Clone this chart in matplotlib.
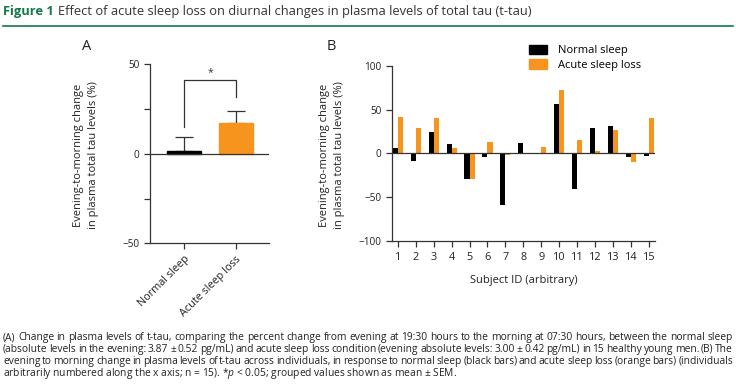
import numpy as np
from matplotlib import pyplot as plt
from matplotlib.patches import Patch

plt.rcParams['font.family'] = ['Open Sans', 'DejaVu Sans']
plt.rcParams['mathtext.fontset'] = 'custom'
plt.rcParams['mathtext.rm'] = 'Open Sans'
plt.rcParams['mathtext.it'] = 'Open Sans:italic'

# panel A: group means and SEM
groups = ['Normal sleep', 'Acute sleep loss']
group_mean = [1.5, 17.2]
group_sem = [8.0, 6.9]

# panel B: individual changes (%)
subjects = list(range(1, 16))
normal_sleep = [6, -9, 25, 11, -29, -3.5, -59, 12, 0.5, 56, -40, 29.5, 31, -3.5, -3]
sleep_loss = [42, 29.5, 41, 6, -29, 13, -2, 0, 7.5, 72, 15, 2.5, 27, -9.5, 40]

title_bold = 'Figure 1'
title_rest = 'Effect of acute sleep loss on diurnal changes in plasma levels of total tau (t-tau)'
caption = [
    '(A) Change in plasma levels of t-tau, comparing the percent change from evening at 19:30 hours to the morning at 07:30 hours, between the normal sleep',
    '(absolute levels in the evening: 3.87 ± 0.52 pg/mL) and acute sleep loss condition (evening absolute levels: 3.00 ± 0.42 pg/mL) in 15 healthy young men. (B) The',
    'evening to morning change in plasma levels of t-tau across individuals, in response to normal sleep (black bars) and acute sleep loss (orange bars) (individuals',
    'arbitrarily numbered along the x axis; n = 15). *$p$ < 0.05; grouped values shown as mean ± SEM.',
]

BLACK = '#000000'
ORANGE = '#f7941d'
AXC = '#333333'
TXT = '#222222'
W, H = 736, 386

fig = plt.figure(figsize=(W / 100, H / 100), dpi=100)


def px_axes(left, top, right, bottom):
    return fig.add_axes([left / W, 1 - bottom / H, (right - left) / W, (bottom - top) / H])


def style(ax):
    for s in ['top', 'right']:
        ax.spines[s].set_visible(False)
    for s in ['left', 'bottom']:
        ax.spines[s].set_color(AXC)
        ax.spines[s].set_linewidth(0.9)
    ax.tick_params(colors=AXC, labelcolor=TXT, labelsize=7.2, width=0.9, length=4)
    ax.tick_params(which='minor', colors=AXC, width=0.9, length=4)


# title
t = fig.text(3 / W, 1 - 11 / H, title_bold, fontsize=9.3, fontweight='bold',
             color='#127a48', ha='left', va='center')
fig.canvas.draw()
r = fig.canvas.get_renderer()
bb = t.get_window_extent(r)
fig.text((bb.x1 + 4) / W, 1 - 11 / H, title_rest, fontsize=9.3, color='#333333',
         ha='left', va='center')
fig.add_artist(plt.Line2D([3 / W, 733 / W], [1 - 26 / H, 1 - 26 / H], color='#127a48', lw=1.2))

# ---- panel A
axA = px_axes(150, 64.3, 269, 243.3)
style(axA)
xa = np.arange(len(groups))
axA.bar(xa, group_mean, width=0.66, color=[BLACK, ORANGE], edgecolor=[BLACK, ORANGE], zorder=2)
axA.errorbar(xa, group_mean, yerr=[np.zeros(2), group_sem], fmt='none', ecolor=AXC,
             elinewidth=0.9, capsize=6.5, capthick=0.9, zorder=1)
axA.axhline(0, color=AXC, lw=0.9, zorder=3)
axA.set_xlim(-0.667, 1.648)
axA.set_ylim(-50, 50)
axA.set_yticks([-50, 0, 50])
axA.set_yticks([-25, 25], minor=True)
axA.set_xticks(xa)
axA.set_xticklabels(groups, rotation=45, ha='right', rotation_mode='anchor', fontsize=7.8)
# significance bracket
axA.plot([0, 0, 1, 1], [15, 41.2, 41.2, 31.5], color=AXC, lw=0.9)
axA.text(0.5, 42.5, '*', ha='center', va='bottom', fontsize=7.5, color=AXC)
ylab = 'Evening-to-morning change\nin plasma total tau levels (%)'
fig.text(86 / W, 1 - 155 / H, ylab, rotation=90, ha='center', va='center',
         fontsize=8, color=TXT, linespacing=1.6)
fig.text(87 / W, 1 - 46 / H, 'A', fontsize=10.5, color=TXT, ha='center', va='center')

# ---- panel B
axB = px_axes(391.7, 65.7, 655, 241.3)
style(axB)
xs = np.array(subjects)
axB.bar(xs - 0.14, normal_sleep, width=0.28, color=BLACK, zorder=2)
axB.bar(xs + 0.14, sleep_loss, width=0.28, color=ORANGE, zorder=2)
axB.axhline(0, color=AXC, lw=0.9, zorder=3)
axB.set_xlim(0.666, 15.33)
axB.set_ylim(-100, 100)
axB.set_yticks([-100, -50, 0, 50, 100])
axB.set_xticks(xs)
axB.tick_params(axis='x', labelsize=7.8)
axB.set_xlabel('Subject ID (arbitrary)', fontsize=8, color=TXT, labelpad=9)
fig.text(332 / W, 1 - 155 / H, ylab, rotation=90, ha='center', va='center',
         fontsize=8, color=TXT, linespacing=1.6)
fig.text(331 / W, 1 - 46 / H, 'B', fontsize=10.5, color=TXT, ha='center', va='center')
axB.legend(handles=[Patch(color=BLACK, label='Normal sleep'), Patch(color=ORANGE, label='Acute sleep loss')],
           loc='upper left', bbox_to_anchor=((529 - 391.7) / 263.3, 1.12), frameon=False,
           fontsize=8, handlelength=1.65, handleheight=0.95, handletextpad=1.0, labelspacing=0.25,
           borderaxespad=0, borderpad=0)

# ---- caption, justified to the full width (tight word gaps like the condensed original)
x0, x1 = 3, 733
fig.canvas.draw()
r = fig.canvas.get_renderer()


def word_widths(words, fs):
    arts = [fig.text(0, 0, w_, fontsize=fs) for w_ in words]
    out = [a.get_window_extent(r).width for a in arts]
    for a in arts:
        a.remove()
    return out


min_gap = 1.6
nat = [sum(word_widths(ln.split(' '), 7)) for ln in caption[:-1]]
ngaps = [len(ln.split(' ')) - 1 for ln in caption[:-1]]
cap_fs = min(7 * (x1 - x0 - g * min_gap) / n for n, g in zip(nat, ngaps))
for i, line in enumerate(caption):
    y = 1 - (340 + i * 11.9) / H
    if i == len(caption) - 1:
        fig.text(x0 / W, y, line, fontsize=cap_fs, color=TXT, ha='left', va='baseline')
        continue
    words = line.split(' ')
    widths = word_widths(words, cap_fs)
    gap = (x1 - x0 - sum(widths)) / (len(words) - 1)
    x = x0
    for w_, wd in zip(words, widths):
        fig.text(x / W, y, w_, fontsize=cap_fs, color=TXT, ha='left', va='baseline')
        x += wd + gap

fig.savefig('out.png', dpi=100)
